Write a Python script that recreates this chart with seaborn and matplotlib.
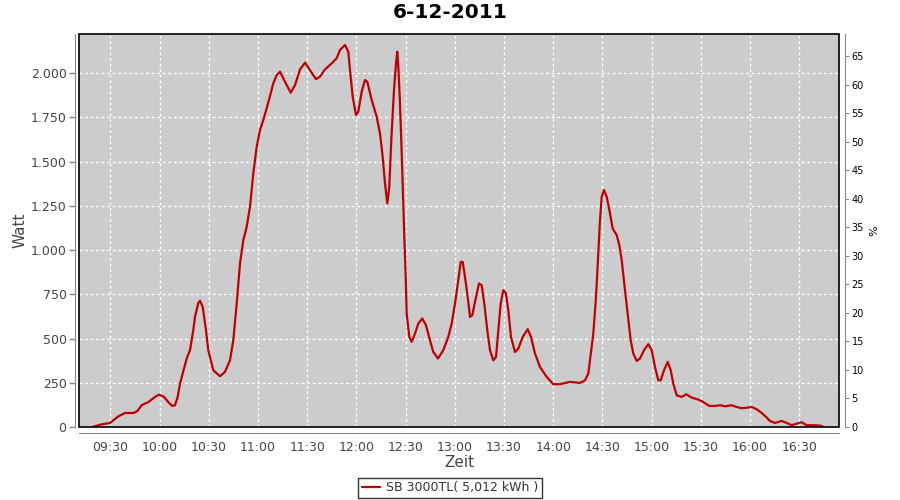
import matplotlib
matplotlib.use("Agg")
import matplotlib.pyplot as plt
import matplotlib.dates as mdates
from matplotlib.ticker import FuncFormatter, MultipleLocator
from matplotlib.patches import Rectangle
import seaborn as sns
import pandas as pd

title = "6-12-2011"
series_name = "SB 3000TL( 5,012 kWh )"

times = [
    "09:19:09", "09:23:36", "09:29:42", "09:34:45", "09:38:51", "09:43:55", "09:46:21",
    "09:49:02", "09:53:05", "09:57:10", "09:59:33", "10:02:40", "10:05:43", "10:07:45",
    "10:09:20", "10:11:00", "10:12:23", "10:16:28", "10:18:29", "10:20:29", "10:21:32",
    "10:23:32", "10:24:35", "10:26:13", "10:28:14", "10:29:38", "10:32:41", "10:36:46",
    "10:39:49", "10:42:52", "10:44:53", "10:46:58", "10:48:58", "10:50:59", "10:53:03",
    "10:55:04", "10:57:05", "10:59:09", "11:01:10", "11:03:11", "11:05:15", "11:07:16",
    "11:09:16", "11:11:21", "11:13:22", "11:16:25", "11:19:53", "11:22:31", "11:25:34",
    "11:28:37", "11:31:40", "11:35:19", "11:37:45", "11:40:48", "11:44:53", "11:47:56",
    "11:49:57", "11:53:00", "11:55:01", "11:56:03", "11:57:42", "11:59:43", "12:01:07",
    "12:03:11", "12:05:12", "12:06:36", "12:09:17", "12:12:20", "12:14:20", "12:15:59",
    "12:17:23", "12:18:48", "12:20:01", "12:21:14", "12:22:53", "12:24:06", "12:24:53",
    "12:25:30", "12:26:32", "12:27:35", "12:28:34", "12:29:10", "12:30:01", "12:30:37",
    "12:32:13", "12:33:40", "12:35:41", "12:37:42", "12:40:08", "12:42:23", "12:44:50",
    "12:46:50", "12:49:43", "12:52:56", "12:55:59", "12:58:04", "13:00:05", "13:02:05",
    "13:03:33", "13:04:46", "13:06:11", "13:07:49", "13:09:13", "13:10:38", "13:12:16",
    "13:14:43", "13:16:22", "13:17:56", "13:19:46", "13:21:25", "13:23:26", "13:25:05",
    "13:26:29", "13:27:56", "13:29:32", "13:31:10", "13:32:35", "13:34:13", "13:36:40",
    "13:38:41", "13:41:22", "13:44:25", "13:46:25", "13:48:52", "13:51:55", "13:56:00",
    "14:00:01", "14:04:07", "14:10:13", "14:16:19", "14:19:22", "14:21:22", "14:22:24",
    "14:24:25", "14:26:04", "14:27:28", "14:28:30", "14:29:32", "14:30:56", "14:32:35",
    "14:34:36", "14:36:14", "14:38:41", "14:40:16", "14:41:44", "14:43:44", "14:45:23",
    "14:47:13", "14:48:48", "14:50:53", "14:52:53", "14:55:20", "14:57:57", "15:00:02",
    "15:02:02", "15:04:03", "15:05:31", "15:07:32", "15:09:47", "15:11:37", "15:13:12",
    "15:15:16", "15:18:19", "15:21:08", "15:24:25", "15:28:27", "15:31:30", "15:35:09",
    "15:38:38", "15:41:41", "15:44:44", "15:48:49", "15:51:52", "15:54:55", "15:58:56",
    "16:01:01", "16:04:04", "16:07:07", "16:10:10", "16:12:10", "16:15:13", "16:19:19",
    "16:22:22", "16:25:25", "16:28:28", "16:31:31", "16:34:34", "16:38:35", "16:42:40",
    "16:44:41",
]

watt = [
    0, 13, 23, 60, 79, 79, 90,
    123, 141, 170, 183, 170, 136, 119,
    123, 170, 245, 387, 434, 547, 622,
    701, 713, 679, 547, 434, 321, 287,
    311, 377, 490, 698, 924, 1056, 1131,
    1244, 1433, 1584, 1678, 1735, 1801, 1870,
    1942, 1989, 2008, 1951, 1889, 1932, 2021,
    2059, 2017, 1966, 1980, 2021, 2055, 2084,
    2131, 2159, 2121, 2017, 1866, 1763, 1782,
    1895, 1961, 1951, 1848, 1753, 1659, 1527,
    1377, 1264, 1357, 1622, 1905, 2055, 2121,
    2036, 1829, 1546, 1244, 1075, 848, 641,
    509, 481, 528, 585, 613, 575, 490,
    424, 387, 434, 509, 585, 698, 830,
    933, 933, 848, 735, 622, 632, 707,
    811, 801, 698, 547, 434, 377, 396,
    547, 698, 773, 755, 660, 509, 424,
    443, 509, 553, 509, 415, 339, 283,
    242, 242, 255, 249, 264, 302, 377,
    528, 735, 981, 1169, 1301, 1339, 1301,
    1207, 1122, 1084, 1028, 943, 773, 641,
    490, 415, 373, 387, 434, 468, 434,
    339, 264, 264, 321, 368, 321, 245,
    179, 170, 185, 166, 155, 141, 119,
    119, 123, 117, 123, 113, 106, 110,
    113, 100, 79, 53, 34, 23, 34,
    23, 10, 19, 27, 10, 10, 8,
    0,
]

x_start, x_end = "09:10:48", "16:54:14"
watt_max = 2221
pct_max = 68.86

day = "2011-12-06 "
df = pd.DataFrame({"Zeit": pd.to_datetime([day + t for t in times]), "Watt": watt})

sns.set_style("white")
plt.rcParams["font.family"] = ["DejaVu Sans"]

fig = plt.figure(figsize=(9, 5), dpi=100)
ax = fig.add_axes([79 / 900, 1 - 427 / 500, (839 - 79) / 900, (427 - 34) / 500])
ax.set_facecolor("#CCCCCC")

sns.lineplot(data=df, x="Zeit", y="Watt", ax=ax, color="#C00000", linewidth=1.6,
             label=series_name, legend=False)

ax.set_xlim(pd.Timestamp(day + x_start), pd.Timestamp(day + x_end))
ax.set_ylim(0, watt_max)
ax.yaxis.set_major_locator(MultipleLocator(250))
ax.yaxis.set_major_formatter(FuncFormatter(lambda v, p: f"{int(round(v)):,}".replace(",", ".")))
ax.xaxis.set_major_locator(mdates.MinuteLocator(byminute=[0, 30]))
ax.xaxis.set_major_formatter(mdates.DateFormatter("%H:%M"))

ax.grid(True, color="white", linestyle=(0, (2, 2)), linewidth=1)
ax.set_axisbelow(True)

for s in ["top", "right"]:
    ax.spines[s].set_visible(False)
ax.spines["left"].set_position(("outward", 3))
ax.spines["bottom"].set_position(("outward", 4))
ax.spines["left"].set_color("#888888")
ax.spines["bottom"].set_color("#888888")
ax.add_patch(Rectangle((0, 0), 1, 1, transform=ax.transAxes, fill=False,
                       edgecolor="black", linewidth=1.2, clip_on=False, zorder=5))

ax.tick_params(axis="both", which="major", length=4, width=1, color="#888888",
               labelcolor="#444444", labelsize=9, direction="out", pad=2)
ax.set_xlabel("Zeit", fontsize=11, color="#444444", labelpad=1)
ax.set_ylabel("Watt", fontsize=11, color="#444444", labelpad=2)

ax2 = ax.twinx()
ax2.set_ylim(0, pct_max)
ax2.yaxis.set_major_locator(MultipleLocator(5))
for s in ["top", "left", "bottom"]:
    ax2.spines[s].set_visible(False)
ax2.spines["right"].set_position(("outward", 4))
ax2.spines["right"].set_color("#888888")
ax2.tick_params(axis="y", length=3, color="#888888", labelcolor="black", labelsize=7, pad=2)
ax2.set_ylabel("%", fontsize=8, color="black", rotation=90, labelpad=4)
ax2.grid(False)

fig.text(0.5, 1 - 13 / 500, title, ha="center", va="center", fontsize=14.5,
         fontweight="bold", color="black")

handles, labels = ax.get_legend_handles_labels()
leg = fig.legend(handles, labels, loc="center", bbox_to_anchor=(450 / 900, 1 - 488 / 500),
                 frameon=True, fancybox=False, edgecolor="black", fontsize=9,
                 handlelength=1.4, handletextpad=0.5, borderpad=0.3, labelcolor="#333333")
leg.get_frame().set_linewidth(1)

fig.savefig("out.png", dpi=100)
